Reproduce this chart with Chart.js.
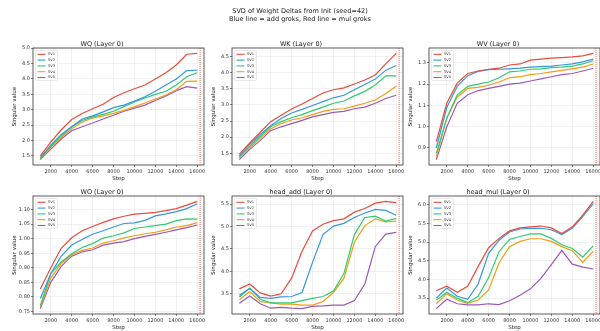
<!DOCTYPE html>
<html>
<head>
<meta charset="utf-8">
<script src="https://cdn.jsdelivr.net/npm/chart.js@4.4.1/dist/chart.umd.min.js"></script>
<style>
  body { margin: 0; background: #fff; }
  #fig { position: relative; width: 600px; height: 331px; overflow: hidden; font-family: "DejaVu Sans", sans-serif; }
  canvas { position: absolute; }
</style>
</head>
<body>
<div id="fig">
  <canvas id="sup" width="600" height="26" style="left:0;top:0;width:600px;height:26px"></canvas>
</div>
<script>
// steps + series labels
const steps = [1000, 2000, 3000, 4000, 5000, 6000, 7000, 8000, 9000, 10000, 11000, 12000, 13000, 14000, 15000, 16000];
const svLabels = ['SV1', 'SV2', 'SV3', 'SV4', 'SV5'];
const svColors = ['#e74c3c', '#3498db', '#2ecc71', '#f39c12', '#9b59b6'];
const xTicks = [2000, 4000, 6000, 8000, 10000, 12000, 14000, 16000];
const grokStep = 16280;
const supTitle = ['SVD of Weight Deltas from Init (seed=42)', 'Blue line = add groks, Red line = mul groks'];

// singular values, one row per SV
const wq = [
  [1.50, 1.95, 2.35, 2.68, 2.88, 3.03, 3.18, 3.40, 3.55, 3.68, 3.80, 4.00, 4.20, 4.45, 4.80, 4.83],
  [1.45, 1.85, 2.20, 2.45, 2.70, 2.80, 2.93, 3.07, 3.15, 3.28, 3.42, 3.60, 3.80, 4.00, 4.27, 4.28],
  [1.42, 1.82, 2.15, 2.45, 2.65, 2.77, 2.85, 2.95, 3.10, 3.25, 3.38, 3.50, 3.60, 3.80, 4.07, 4.20],
  [1.40, 1.78, 2.10, 2.38, 2.60, 2.73, 2.80, 2.88, 2.98, 3.10, 3.22, 3.35, 3.48, 3.65, 3.92, 3.93],
  [1.38, 1.72, 2.05, 2.32, 2.45, 2.57, 2.70, 2.82, 2.95, 3.05, 3.15, 3.30, 3.45, 3.62, 3.75, 3.70]
];
const wk = [
  [1.47, 1.82, 2.15, 2.48, 2.68, 2.87, 3.03, 3.20, 3.37, 3.47, 3.53, 3.65, 3.77, 3.93, 4.27, 4.60],
  [1.42, 1.78, 2.08, 2.35, 2.58, 2.75, 2.86, 2.98, 3.10, 3.22, 3.30, 3.47, 3.63, 3.80, 4.07, 4.22],
  [1.38, 1.72, 2.02, 2.32, 2.48, 2.60, 2.70, 2.82, 2.93, 3.05, 3.12, 3.28, 3.42, 3.62, 3.90, 3.90],
  [1.35, 1.67, 1.97, 2.25, 2.42, 2.53, 2.60, 2.70, 2.80, 2.86, 2.88, 2.96, 3.05, 3.15, 3.35, 3.58],
  [1.30, 1.62, 1.90, 2.20, 2.32, 2.42, 2.52, 2.63, 2.70, 2.77, 2.80, 2.88, 2.93, 3.05, 3.20, 3.30]
];
const wv = [
  [0.930, 1.110, 1.205, 1.250, 1.262, 1.270, 1.275, 1.290, 1.295, 1.313, 1.318, 1.322, 1.325, 1.328, 1.333, 1.345],
  [0.900, 1.090, 1.190, 1.240, 1.260, 1.268, 1.270, 1.272, 1.275, 1.280, 1.282, 1.285, 1.290, 1.295, 1.305, 1.318],
  [0.875, 1.040, 1.150, 1.190, 1.200, 1.210, 1.230, 1.258, 1.262, 1.270, 1.272, 1.278, 1.280, 1.285, 1.295, 1.310],
  [0.860, 1.040, 1.140, 1.180, 1.185, 1.195, 1.210, 1.230, 1.235, 1.245, 1.250, 1.258, 1.265, 1.272, 1.280, 1.295],
  [0.845, 1.000, 1.110, 1.150, 1.170, 1.180, 1.190, 1.200, 1.205, 1.215, 1.225, 1.235, 1.245, 1.250, 1.262, 1.275]
];
const wo = [
  [0.827, 0.900, 0.967, 1.003, 1.027, 1.042, 1.056, 1.068, 1.077, 1.084, 1.087, 1.090, 1.096, 1.103, 1.115, 1.128],
  [0.795, 0.880, 0.940, 0.978, 0.997, 1.015, 1.027, 1.040, 1.052, 1.054, 1.063, 1.078, 1.085, 1.093, 1.103, 1.120],
  [0.770, 0.880, 0.920, 0.948, 0.970, 0.983, 1.002, 1.010, 1.020, 1.035, 1.040, 1.045, 1.050, 1.062, 1.068, 1.067],
  [0.765, 0.865, 0.915, 0.945, 0.960, 0.968, 0.985, 0.993, 1.003, 1.010, 1.017, 1.022, 1.030, 1.040, 1.045, 1.055],
  [0.760, 0.850, 0.905, 0.940, 0.955, 0.962, 0.978, 0.985, 0.990, 1.000, 1.008, 1.015, 1.022, 1.030, 1.038, 1.047]
];
const headAdd = [
  [3.61, 3.72, 3.52, 3.45, 3.50, 3.85, 4.45, 4.90, 5.05, 5.13, 5.17, 5.32, 5.40, 5.52, 5.56, 5.53],
  [3.47, 3.62, 3.42, 3.40, 3.43, 3.44, 3.53, 4.20, 4.82, 5.01, 5.07, 5.20, 5.30, 5.38, 5.36, 5.25],
  [3.43, 3.63, 3.38, 3.30, 3.30, 3.30, 3.35, 3.40, 3.44, 3.56, 3.95, 4.82, 5.20, 5.23, 5.12, 5.18],
  [3.37, 3.55, 3.33, 3.30, 3.27, 3.27, 3.25, 3.25, 3.33, 3.53, 3.85, 4.65, 5.02, 5.17, 5.10, 5.12],
  [3.29, 3.45, 3.28, 3.18, 3.20, 3.18, 3.17, 3.22, 3.23, 3.25, 3.25, 3.35, 3.72, 4.55, 4.83, 4.87]
];
const headMul = [
  [3.70, 3.82, 3.66, 3.82, 4.35, 4.85, 5.10, 5.30, 5.38, 5.41, 5.43, 5.38, 5.23, 5.41, 5.72, 6.09],
  [3.50, 3.77, 3.55, 3.47, 3.88, 4.70, 5.05, 5.27, 5.35, 5.37, 5.37, 5.33, 5.20, 5.37, 5.68, 6.03],
  [3.45, 3.65, 3.50, 3.38, 3.55, 4.05, 4.75, 5.07, 5.15, 5.22, 5.22, 5.10, 4.93, 4.83, 4.60, 4.90],
  [3.35, 3.62, 3.45, 3.36, 3.45, 3.72, 4.45, 4.88, 5.02, 5.09, 5.09, 5.02, 4.88, 4.77, 4.46, 4.75],
  [3.22, 3.47, 3.35, 3.32, 3.32, 3.35, 3.33, 3.43, 3.58, 3.75, 4.03, 4.40, 4.78, 4.41, 4.33, 4.28]
];

// panel layout: plot box left, top, width, height
const panels = [
  { title: 'WQ (Layer 0)', data: wq, step: 0.5, dec: 1, box: [33, 48, 171, 117] },
  { title: 'WK (Layer 0)', data: wk, step: 0.5, dec: 1, box: [232, 48, 171, 117] },
  { title: 'WV (Layer 0)', data: wv, step: 0.1, dec: 1, box: [429, 48, 171, 117] },
  { title: 'WO (Layer 0)', data: wo, step: 0.05, dec: 2, box: [33, 196, 171, 118] },
  { title: 'head_add (Layer 0)', data: headAdd, step: 0.5, dec: 1, box: [232, 196, 171, 118] },
  { title: 'head_mul (Layer 0)', data: headMul, step: 0.5, dec: 1, box: [429, 196, 171, 118] }
];

const Y_W = 33, X_H = 18, TITLE_H = 8, RIGHT_PAD = 12;
const FONT = 'DejaVu Sans';

// figure title
const sctx = document.getElementById('sup').getContext('2d');
sctx.font = '6.5px "' + FONT + '"';
sctx.fillStyle = '#222';
sctx.textAlign = 'center';
sctx.textBaseline = 'middle';
sctx.fillText(supTitle[0], 300, 11);
sctx.fillText(supTitle[1], 300, 19);

// spines, grok line, legend inside the axes
const axesDecor = {
  id: 'axesDecor',
  afterDatasetsDraw(chart) {
    const ctx = chart.ctx, a = chart.chartArea, xs = chart.scales.x;
    ctx.save();
    // grok marker
    const gx = xs.getPixelForValue(grokStep);
    ctx.strokeStyle = 'rgba(231,76,60,0.55)';
    ctx.lineWidth = 1.4;
    ctx.setLineDash([1, 1]);
    ctx.beginPath();
    ctx.moveTo(gx, a.top);
    ctx.lineTo(gx, a.bottom);
    ctx.stroke();
    ctx.setLineDash([]);
    // frame
    ctx.strokeStyle = '#333';
    ctx.lineWidth = 0.8;
    ctx.strokeRect(a.left, a.top, a.right - a.left, a.bottom - a.top);
    // legend
    const lx = a.left + 2.5, ly = a.top + 2.5;
    ctx.fillStyle = 'rgba(255,255,255,0.85)';
    ctx.strokeStyle = '#d5d5d5';
    ctx.lineWidth = 0.5;
    ctx.beginPath();
    ctx.roundRect(lx, ly, 22, 30, 1);
    ctx.fill();
    ctx.stroke();
    ctx.font = '3.6px "' + FONT + '"';
    ctx.textBaseline = 'middle';
    chart.data.datasets.forEach((ds, i) => {
      const yy = ly + 3.8 + i * 5.8;
      ctx.strokeStyle = ds.borderColor;
      ctx.lineWidth = 1.1;
      ctx.beginPath();
      ctx.moveTo(lx + 2, yy);
      ctx.lineTo(lx + 10, yy);
      ctx.stroke();
      ctx.fillStyle = '#333';
      ctx.fillText(ds.label, lx + 12.5, yy);
    });
    ctx.restore();
  }
};

const fig = document.getElementById('fig');

panels.forEach(p => {
  const [L, T, W, H] = p.box;
  const canvas = document.createElement('canvas');
  const cw = Y_W + W + RIGHT_PAD, ch = TITLE_H + H + X_H;
  canvas.width = cw; canvas.height = ch;
  canvas.style.left = (L - Y_W) + 'px';
  canvas.style.top = (T - TITLE_H) + 'px';
  canvas.style.width = cw + 'px';
  canvas.style.height = ch + 'px';
  fig.appendChild(canvas);

  // matplotlib-style 5% margins
  const all = p.data.flat();
  const lo = Math.min(...all), hi = Math.max(...all), m = (hi - lo) * 0.05;

  new Chart(canvas, {
    type: 'line',
    data: {
      datasets: p.data.map((vals, i) => ({
        label: svLabels[i],
        data: steps.map((s, j) => ({ x: s, y: vals[j] })),
        borderColor: svColors[i],
        borderWidth: 1.2,
        pointRadius: 0,
        tension: 0,
        fill: false
      }))
    },
    options: {
      responsive: false,
      animation: false,
      devicePixelRatio: 1,
      layout: { padding: { left: 0, right: RIGHT_PAD, top: 0, bottom: 0 } },
      plugins: {
        legend: { display: false },
        tooltip: { enabled: false },
        title: {
          display: true,
          text: p.title,
          color: '#222',
          font: { family: FONT, size: 6.5, weight: 'normal', lineHeight: 1.2 },
          padding: { top: 0, bottom: 0.2 }
        }
      },
      scales: {
        x: {
          type: 'linear',
          min: 300,
          max: 16650,
          afterFit: s => { s.height = X_H; },
          afterBuildTicks: s => { s.ticks = xTicks.map(v => ({ value: v })); },
          ticks: {
            autoSkip: false, maxRotation: 0, padding: 1.5, color: '#333',
            font: { family: FONT, size: 5 },
            callback: v => String(v)
          },
          grid: { color: 'rgba(176,176,176,0.3)', lineWidth: 0.6, tickColor: '#333', tickLength: 2 },
          border: { display: false },
          title: { display: true, text: 'Step', color: '#222', font: { family: FONT, size: 5.5 }, padding: { top: 0, bottom: 1.3 } }
        },
        y: {
          min: lo - m,
          max: hi + m,
          afterFit: s => { s.width = Y_W; },
          ticks: {
            stepSize: p.step, includeBounds: false, padding: 1, color: '#333',
            font: { family: FONT, size: 5 },
            callback: v => v.toFixed(p.dec)
          },
          grid: { color: 'rgba(176,176,176,0.3)', lineWidth: 0.6, tickColor: '#333', tickLength: 2 },
          border: { display: false },
          title: { display: true, text: 'Singular value', color: '#222', font: { family: FONT, size: 5.5 }, padding: { top: 11.5, bottom: 0 } }
        }
      }
    },
    plugins: [axesDecor]
  });
});
</script>
</body>
</html>
